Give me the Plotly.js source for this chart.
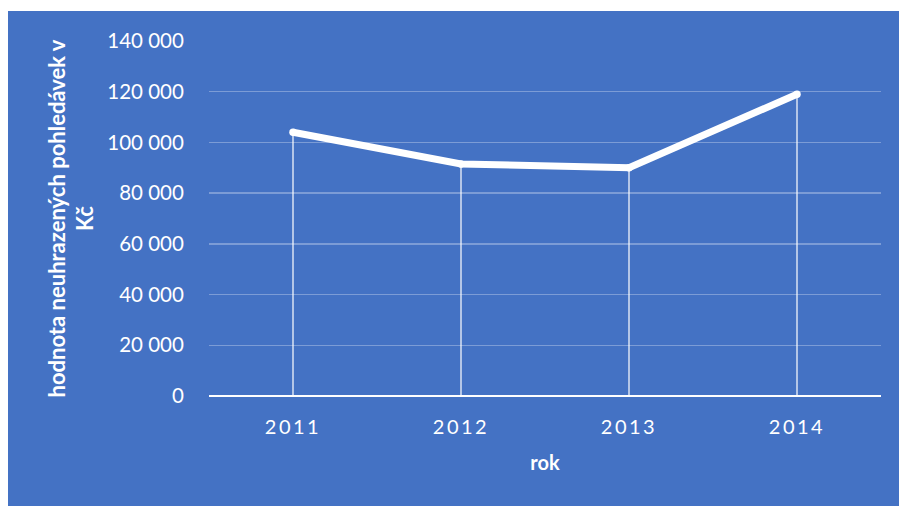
<!DOCTYPE html>
<html>
<head>
<meta charset="utf-8">
<script src="https://cdn.plot.ly/plotly-3.0.1.min.js"></script>
<style>
  html, body { margin: 0; padding: 0; background: #ffffff; width: 899px; height: 506px; overflow: hidden; }
  #chart { position: absolute; left: 8px; top: 11px; width: 891px; height: 495px; }
  .xtick text { letter-spacing: 2.5px; }
</style>
</head>
<body>
<div id="chart"></div>
<script>
const years = ['2011', '2012', '2013', '2014'];
const values = [104000, 91500, 90000, 119000];
const yTickVals = [0, 20000, 40000, 60000, 80000, 100000, 120000, 140000];
const yTickText = ['0', '20 000', '40 000', '60 000', '80 000', '100 000', '120 000', '140 000'];

const dropX = [];
const dropY = [];
years.forEach((yr, i) => { dropX.push(yr, yr, null); dropY.push(0, values[i], null); });

const traces = [
  {
    x: dropX, y: dropY, type: 'scatter', mode: 'lines',
    line: { color: 'rgba(255,255,255,0.8)', width: 1.5 },
    hoverinfo: 'skip', showlegend: false
  },
  {
    x: years, y: values, type: 'scatter', mode: 'lines+markers',
    line: { color: '#ffffff', width: 7 },
    marker: { color: '#ffffff', size: 7.5 },
    showlegend: false
  }
];

const layout = {
  width: 891, height: 495,
  paper_bgcolor: '#4472C4',
  plot_bgcolor: '#4472C4',
  margin: { l: 201, r: 18, t: 30, b: 110 },
  font: { family: 'Lato, "Open Sans", sans-serif', color: '#ffffff' },
  xaxis: {
    type: 'category',
    range: [-0.5, 3.5],
    showgrid: false,
    zeroline: false,
    showline: false,
    ticks: 'outside', ticklen: 13, tickcolor: 'rgba(0,0,0,0)',
    tickfont: { size: 20, color: '#ffffff' },
    title: { text: '<b>rok</b>', font: { size: 20, color: '#ffffff' }, standoff: 18 },
    automargin: false
  },
  yaxis: {
    range: [0, 140000],
    tickvals: yTickVals,
    ticktext: yTickText,
    showgrid: true,
    gridcolor: 'rgba(255,255,255,0.3)',
    gridwidth: 1.5,
    zeroline: true,
    zerolinecolor: '#ffffff',
    zerolinewidth: 2,
    showline: false,
    ticks: 'outside', ticklen: 20, tickcolor: 'rgba(0,0,0,0)',
    tickfont: { size: 20.5, color: '#ffffff' },
    title: { text: '<b>hodnota neuhrazených pohledávek v<br>Kč</b>', font: { size: 22, color: '#ffffff' }, standoff: 7 },
    automargin: false
  }
};

Plotly.newPlot('chart', traces, layout, { displayModeBar: false, staticPlot: true });
</script>
</body>
</html>
